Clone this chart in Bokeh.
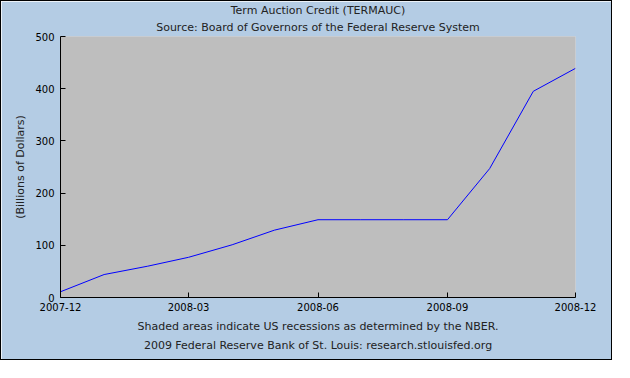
from bokeh.plotting import figure
from bokeh.models import ColumnDataSource, BoxAnnotation, Title, FixedTicker, Range1d
from bokeh.embed import file_html
from bokeh.resources import INLINE
import pandas as pd

months = ["2007-12", "2008-01", "2008-02", "2008-03", "2008-04", "2008-05", "2008-06",
          "2008-07", "2008-08", "2008-09", "2008-10", "2008-11", "2008-12"]
values = [11, 44, 60, 77, 101, 129, 149, 149, 149, 149, 247, 395, 439]
tick_months = ["2007-12", "2008-03", "2008-06", "2008-09", "2008-12"]
recession_start = "2007-12"
recession_end = "2008-12"

dates = pd.to_datetime(months)
src = ColumnDataSource(dict(x=dates, y=values))

BG = "#b4cce4"
FONT = "DejaVu Sans"

p = figure(width=612, height=360, x_axis_type="datetime", output_backend="svg",
           toolbar_location=None,
           min_border_left=59, min_border_right=38, min_border_top=30, min_border_bottom=64)
p.styles = {"border": "1px solid #000000"}
p.background_fill_color = "#bebebe"
p.border_fill_color = BG
p.outline_line_color = None
p.x_range = Range1d(dates[0], dates[-1])
p.y_range = Range1d(0, 500)
p.grid.visible = False

rec = BoxAnnotation(left=pd.Timestamp(recession_start), right=pd.Timestamp(recession_end),
                    fill_color="#bebebe", fill_alpha=1.0, line_color=None, level="underlay")
p.add_layout(rec)

p.line("x", "y", source=src, line_color="#0000ff", line_width=1)

tick_ms = [pd.Timestamp(t).value / 1e6 for t in tick_months]
p.xaxis.ticker = FixedTicker(ticks=tick_ms)
p.xaxis.major_label_overrides = {t: lbl for t, lbl in zip(tick_ms, tick_months)}
p.yaxis.ticker = FixedTicker(ticks=[0, 100, 200, 300, 400, 500])
for ax in (p.xaxis[0], p.yaxis[0]):
    ax.major_tick_in = 5
    ax.major_tick_out = 0
    ax.minor_tick_line_color = None
    ax.axis_line_color = "#000000"
    ax.major_tick_line_color = "#000000"
    ax.major_label_text_font = FONT
    ax.major_label_text_font_size = "10px"
    ax.major_label_text_color = "#000000"
    ax.axis_label_text_font = FONT
    ax.axis_label_text_font_style = "normal"
    ax.axis_label_text_font_size = "11px"
    ax.axis_label_text_color = "#222222"
p.xaxis.major_label_standoff = 5
p.yaxis.major_label_standoff = 6
p.yaxis.axis_label = "(Billions of Dollars)"
p.yaxis.axis_label_standoff = 5

for txt, so in [("Source: Board of Governors of the Federal Reserve System", 5),
                ("Term Auction Credit (TERMAUC)", 0)]:
    p.add_layout(Title(text=txt, align="center", text_font=FONT, text_font_size="11px",
                       text_font_style="normal", text_color="#222222", standoff=so), "above")

for txt, so in [("Shaded areas indicate US recessions as determined by the NBER.", 8),
                ("2009 Federal Reserve Bank of St. Louis: research.stlouisfed.org", 0)]:
    p.add_layout(Title(text=txt, align="center", text_font=FONT, text_font_size="11px",
                       text_font_style="normal", text_color="#222222", standoff=so), "below")

open("out.html", "w").write(file_html(p, INLINE))
